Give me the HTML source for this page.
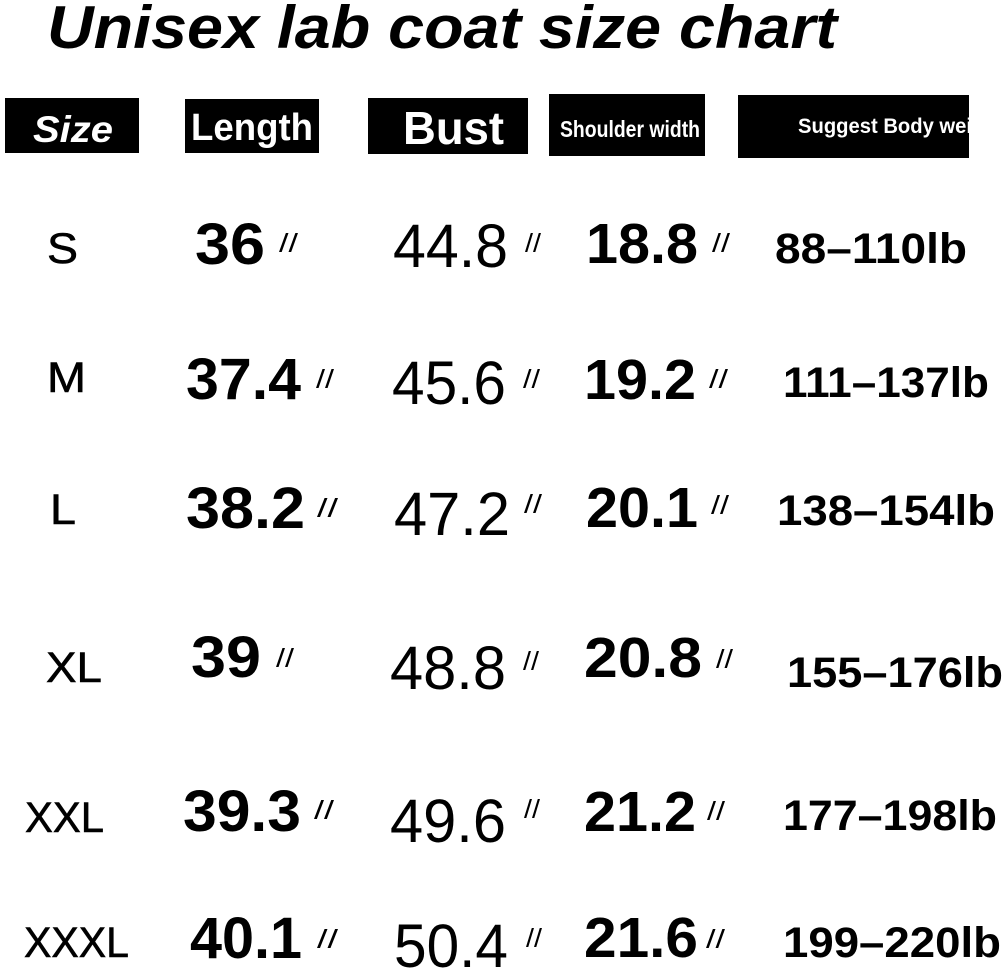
<!DOCTYPE html>
<html>
<head>
<meta charset="utf-8">
<style>
html,body{margin:0;padding:0;background:#fff;}
body{width:1005px;height:968px;overflow:hidden;}
svg{display:block;}
.t{font-family:"Liberation Sans",Arial,sans-serif;fill:#000;}
.b{font-weight:bold;}
.q{font-family:"Liberation Sans",Arial,sans-serif;font-size:26px;fill:#000;}
.w{fill:#fff;}
</style>
</head>
<body>
<svg width="1005" height="968" viewBox="0 0 1005 968" xmlns="http://www.w3.org/2000/svg">
<defs>
<clipPath id="cs"><rect x="738" y="95" width="231" height="63"/></clipPath>
</defs>
<rect x="0" y="0" width="1005" height="968" fill="#fff"/>

<!-- Title -->
<text class="t b" x="47" y="48" font-size="60" font-style="italic" textLength="790" lengthAdjust="spacingAndGlyphs">Unisex lab coat size chart</text>

<!-- Header boxes -->
<rect x="5" y="98" width="134" height="55" fill="#000"/>
<text class="t b w" x="33" y="142" font-size="37" font-style="italic" textLength="80" lengthAdjust="spacingAndGlyphs">Size</text>

<rect x="185" y="99" width="134" height="54" fill="#000"/>
<text class="t b w" x="191" y="140" font-size="38" textLength="122" lengthAdjust="spacingAndGlyphs">Length</text>

<rect x="368" y="98" width="160" height="56" fill="#000"/>
<text class="t b w" x="403" y="144" font-size="46" textLength="101" lengthAdjust="spacingAndGlyphs">Bust</text>

<rect x="549" y="94" width="156" height="62" fill="#000"/>
<text class="t b w" x="560" y="137" font-size="23" textLength="140" lengthAdjust="spacingAndGlyphs">Shoulder width</text>

<rect x="738" y="95" width="231" height="63" fill="#000"/>
<g clip-path="url(#cs)">
<text class="t b w" x="798" y="133" font-size="21" textLength="174" lengthAdjust="spacingAndGlyphs">Suggest Body wei</text>
</g>

<!-- Size column -->
<g class="t" font-size="43" stroke="#000" stroke-width="0.6">
<text x="47" y="263" textLength="31" lengthAdjust="spacingAndGlyphs">S</text>
<text x="47" y="392" textLength="39" lengthAdjust="spacingAndGlyphs">M</text>
<text x="50" y="524" textLength="26" lengthAdjust="spacingAndGlyphs">L</text>
<text x="46" y="682" textLength="56" lengthAdjust="spacingAndGlyphs">XL</text>
<text x="25" y="832" textLength="79" lengthAdjust="spacingAndGlyphs">XXL</text>
<text x="24" y="957" textLength="105" lengthAdjust="spacingAndGlyphs">XXXL</text>
</g>

<!-- Length column -->
<g class="t b" font-size="58">
<text x="195" y="264" textLength="70" lengthAdjust="spacingAndGlyphs">36</text>
<text x="186" y="399" textLength="115" lengthAdjust="spacingAndGlyphs">37.4</text>
<text x="186" y="528" textLength="119" lengthAdjust="spacingAndGlyphs">38.2</text>
<text x="191" y="677" textLength="70" lengthAdjust="spacingAndGlyphs">39</text>
<text x="183" y="831" textLength="118" lengthAdjust="spacingAndGlyphs">39.3</text>
<text x="190" y="958" textLength="112" lengthAdjust="spacingAndGlyphs">40.1</text>
</g>
<g>
<text class="q" x="279" y="252" textLength="19" lengthAdjust="spacingAndGlyphs">//</text>
<text class="q" x="316" y="388" textLength="18" lengthAdjust="spacingAndGlyphs">//</text>
<text class="q" x="317" y="517" textLength="21" lengthAdjust="spacingAndGlyphs">//</text>
<text class="q" x="276" y="667" textLength="18" lengthAdjust="spacingAndGlyphs">//</text>
<text class="q" x="314" y="819" textLength="20" lengthAdjust="spacingAndGlyphs">//</text>
<text class="q" x="317" y="948" textLength="21" lengthAdjust="spacingAndGlyphs">//</text>
</g>

<!-- Bust column -->
<g class="t" font-size="61">
<text x="393" y="267" textLength="115" lengthAdjust="spacingAndGlyphs">44.8</text>
<text x="392" y="404" textLength="114" lengthAdjust="spacingAndGlyphs">45.6</text>
<text x="394" y="535" textLength="116" lengthAdjust="spacingAndGlyphs">47.2</text>
<text x="390" y="689" textLength="116" lengthAdjust="spacingAndGlyphs">48.8</text>
<text x="390" y="842" textLength="116" lengthAdjust="spacingAndGlyphs">49.6</text>
<text x="394" y="967" textLength="114" lengthAdjust="spacingAndGlyphs">50.4</text>
</g>
<g>
<text class="q" x="525" y="252" textLength="16" lengthAdjust="spacingAndGlyphs">//</text>
<text class="q" x="523" y="388" textLength="17" lengthAdjust="spacingAndGlyphs">//</text>
<text class="q" x="524" y="513" textLength="18" lengthAdjust="spacingAndGlyphs">//</text>
<text class="q" x="523" y="670" textLength="16" lengthAdjust="spacingAndGlyphs">//</text>
<text class="q" x="524" y="818" textLength="16" lengthAdjust="spacingAndGlyphs">//</text>
<text class="q" x="526" y="947" textLength="16" lengthAdjust="spacingAndGlyphs">//</text>
</g>

<!-- Shoulder column -->
<g class="t b" font-size="57">
<text x="586" y="263" textLength="112" lengthAdjust="spacingAndGlyphs">18.8</text>
<text x="584" y="399" textLength="112" lengthAdjust="spacingAndGlyphs">19.2</text>
<text x="586" y="527" textLength="112" lengthAdjust="spacingAndGlyphs">20.1</text>
<text x="584" y="677" textLength="118" lengthAdjust="spacingAndGlyphs">20.8</text>
<text x="584" y="831" textLength="112" lengthAdjust="spacingAndGlyphs">21.2</text>
<text x="584" y="957" textLength="114" lengthAdjust="spacingAndGlyphs">21.6</text>
</g>
<g>
<text class="q" x="712" y="252" textLength="18" lengthAdjust="spacingAndGlyphs">//</text>
<text class="q" x="709" y="388" textLength="19" lengthAdjust="spacingAndGlyphs">//</text>
<text class="q" x="711" y="514" textLength="18" lengthAdjust="spacingAndGlyphs">//</text>
<text class="q" x="716" y="668" textLength="17" lengthAdjust="spacingAndGlyphs">//</text>
<text class="q" x="707" y="820" textLength="18" lengthAdjust="spacingAndGlyphs">//</text>
<text class="q" x="706" y="948" textLength="19" lengthAdjust="spacingAndGlyphs">//</text>
</g>

<!-- Weight column -->
<g class="t b" font-size="43">
<text x="775" y="263" textLength="192" lengthAdjust="spacingAndGlyphs">88–110lb</text>
<text x="783" y="397" textLength="206" lengthAdjust="spacingAndGlyphs">111–137lb</text>
<text x="777" y="525" textLength="218" lengthAdjust="spacingAndGlyphs">138–154lb</text>
<text x="787" y="687" textLength="216" lengthAdjust="spacingAndGlyphs">155–176lb</text>
<text x="783" y="830" textLength="214" lengthAdjust="spacingAndGlyphs">177–198lb</text>
<text x="783" y="957" textLength="218" lengthAdjust="spacingAndGlyphs">199–220lb</text>
</g>
</svg>
</body>
</html>
